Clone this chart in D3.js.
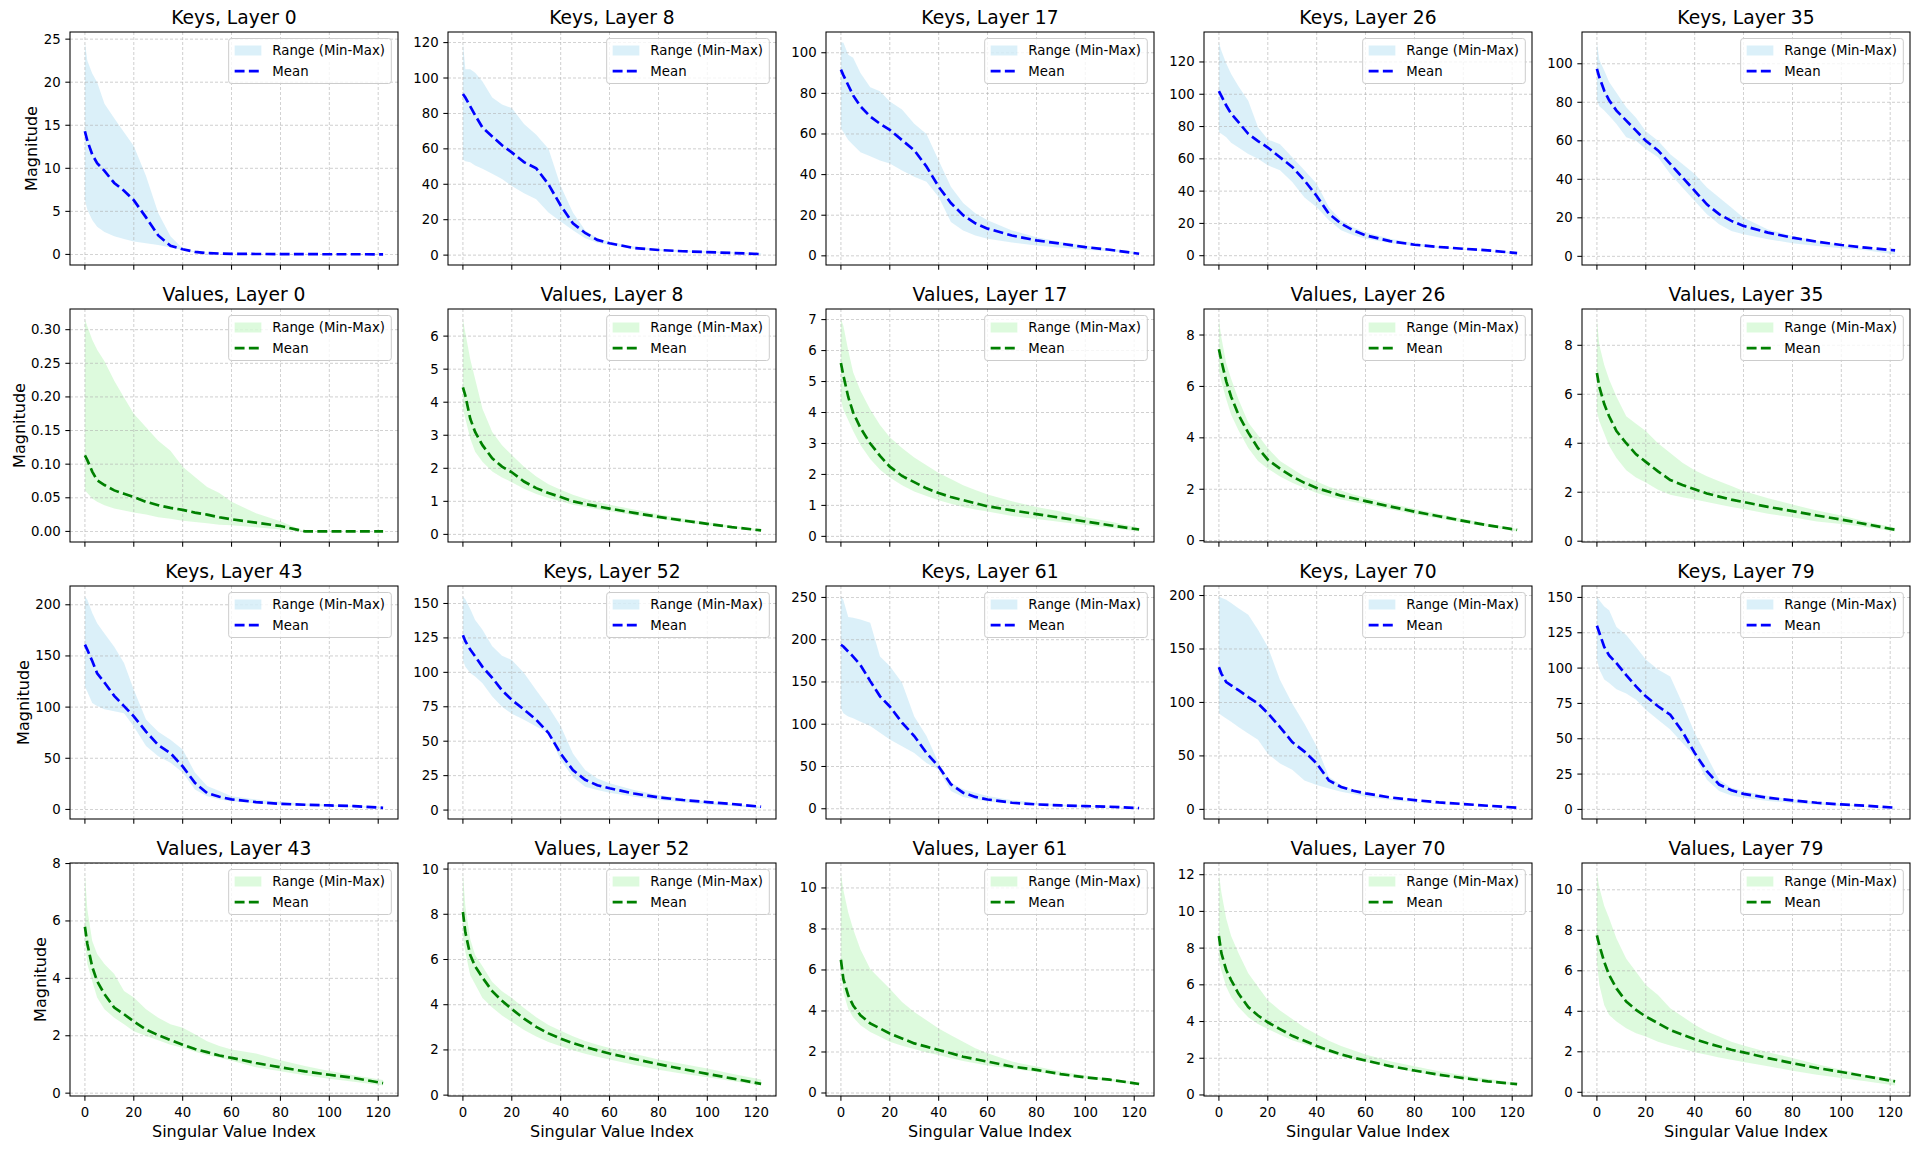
<!DOCTYPE html>
<html lang="en">
<head>
<meta charset="utf-8" />
<title>Singular values per layer</title>
<style>
  body        { margin:0; background:#fff; }
  svg         { display:block; font-family:"DejaVu Sans", sans-serif; }
  .grid line  { stroke:#b0b0b0; stroke-width:0.8px; stroke-dasharray:3,2; opacity:0.75; }
  .frame      { fill:none; stroke:#000; stroke-width:1.05px; }
  .tick       { stroke:#000; stroke-width:1.05px; }
  .tickText   { font-size:13.3px; fill:#000; }
  .title      { font-size:18.7px; fill:#000; text-anchor:middle; }
  .axisLabel  { font-size:16px; fill:#000; text-anchor:middle; }
  .legendText { font-size:13.3px; fill:#000; }
</style>
</head>
<body>
<svg width="1920" height="1151"></svg>

<script src="https://cdn.jsdelivr.net/npm/d3@7"></script>
<script>
/* ---------- DATA ---------- */
const layers  = [0, 8, 17, 26, 35, 43, 52, 61, 70, 79];
const svIndex = [0,1,3,5,8,12,16,20,25,30,35,40,45,50,55,60,70,80,90,100,110,122];

// one row per layer, values at svIndex
const keysMax = [
  [24.6,22.5,21,20,17.5,15.8,14.2,12.6,9.1,4.8,2.1,0.7,0.35,0.2,0.12,0.08,0.05,0.04,0.03,0.03,0.02,0.02],
  [120,105,105,103,98,89,85,83,74,68,60,39,24,14,9.5,7.6,4.8,3.5,2.8,2.2,1.6,1.0],
  [105,105,99,97.5,90,83,81,76,72,65,60,47,34,26,21,17.5,12.5,9.2,6.8,5.1,3.5,1.8],
  [132,127,119,112.6,105,96,79.6,72,69,61,53,44.5,30,22,17.7,14.6,10.5,7.8,5.8,4.3,3.3,1.9],
  [111,102,96.5,90.5,85,77.4,72,65,60,53,48,42.7,35.8,30.5,25.3,20,14,10.6,8,5.9,4.2,2.4],
  [208,205,192,182,172,159,143,117,88,76,68,58.5,36,23,18,13,9.8,7.5,5.9,4.6,3.6,2.3],
  [155,153,146,138,131,119,112,109,99.5,87,75,61,41,29,23,19.4,14.6,10.9,8.5,6.1,4.4,2.4],
  [251,247,227,226,224,220,180,169,149,109,86,54,31,23,19,15,10.2,7.1,5.1,3.5,2.4,0.8],
  [199,198,196,193,188,182,168,152,121,99,80,59,30.5,22.7,18,15,10.3,7.2,5.6,4,2.5,1.2],
  [150.6,148,143.5,141,129,123.5,115,106,99,94,75,54,37.6,21,15.3,13,9.4,7,5.4,3.8,2.4,1.2]
];
const keysMean = [
  [14.3,13.2,11.6,10.6,9.7,8.3,7.4,6.3,4.3,2.2,1.0,0.6,0.3,0.15,0.1,0.07,0.05,0.04,0.03,0.02,0.02,0.01],
  [91,89,84,79,72,67,62,58,52.5,49,40,28,18,12.5,8.6,6.7,4,2.9,2.2,1.7,1.2,0.6],
  [91.7,89,84,79,73.6,68.6,65,62,57,52,44,34,26,20,16,13.4,10,7.6,6,4.3,3,1],
  [102,99,93,88,82.7,75.5,71,67,61,55,46.6,37,26,19.8,15.7,12.6,9,6.8,5.4,4.3,3.3,1.6],
  [97.4,93,86,81,75.7,70.5,65.3,60,55,48,41,34,27,21.9,18.4,15.8,12.3,9.7,7.6,5.9,4.5,3.1],
  [161,156,145,133,124,111,101,91,76,63,55,42,26,16,12.4,9.8,7.2,5.5,4.6,3.9,3.3,1.6],
  [127,122.6,116.5,111.7,104,96,87,80,73,65.5,56,41,29,22,18,15.8,12,9.2,7.3,5.8,4.4,2.4],
  [194,192,186,180,170,151,133,121,102,86,66,50,29,19,14,11,7.1,5.1,3.9,3.1,2.4,0.8],
  [133,127,119,116,111.5,105,99,90,77,63,54,43,27,21,17.4,15,11.2,8.7,6.5,5,3.4,1.6],
  [130,125,115,109,103.5,95,87,80,73,67,55,40,27,17.6,13.6,11,8.2,6.4,4.7,3.5,2.6,1.2]
];
const keysMin = [
  [6.3,5.2,4.0,3.2,2.6,2.1,1.8,1.5,1.3,1.1,0.8,0.5,0.25,0.12,0.08,0.05,0.03,0.02,0.02,0.01,0.01,0.0],
  [54,53,52.5,50.6,48.7,46,43,39,35,31.5,24,19,14,9.5,7,5.7,3.5,2.5,1.8,1.3,0.9,0.4],
  [63,61,57,54.6,51,49,47,45.5,42,39,36.5,29,16.7,12.5,10,8.4,6.6,5.1,4,3,2.3,0.7],
  [76.5,75.5,73.4,70,67,63,60,56,53,45.6,36,30,22,15.7,12.6,10.5,7.8,6,4.7,3.7,2.9,0.8],
  [81,78,75.7,73,68.7,61.8,60,55.7,51.4,42.7,35.8,28.8,21.9,16.7,13.2,11.5,8.9,6.8,5.4,4.2,3.1,1],
  [120,115,104,101,98,96,94,81,62,52,45.5,36,19.5,13,9.8,8.1,5.9,4.6,3.6,2.9,2.3,1],
  [109,104,99.5,97,92,82.5,75,70,65.5,60.7,56,36.4,24,17,14.6,12.6,9.7,7.3,5.6,4.1,2.9,1.2],
  [119,113,109,107,103,98,90,82,74,66,54,46,21,14,11,8.7,5.9,4.3,3.1,2.4,1.6,0.4],
  [90,88,85,82,77,71,65,52,43,37,27,22.7,19.6,16.5,14.3,11.8,8.7,6.5,5,3.7,2.5,0.9],
  [106,99,92,89.4,85,82,77.6,70.6,63.5,56.5,47,37.6,21,13,9.9,8.2,5.9,4.5,3.3,2.6,1.9,0.7]
];

const valuesMax = [
  [0.315,0.305,0.285,0.27,0.253,0.224,0.199,0.175,0.155,0.135,0.12,0.096,0.081,0.066,0.057,0.044,0.027,0.015,0,0,0,0],
  [6.5,6.1,5.3,4.7,3.8,3.1,2.7,2.4,2.05,1.75,1.52,1.35,1.2,1.08,0.98,0.9,0.75,0.61,0.48,0.37,0.26,0.15],
  [7.0,6.8,6.0,5.3,4.7,4.1,3.6,3.2,2.85,2.55,2.3,2.05,1.85,1.65,1.5,1.35,1.13,0.95,0.8,0.62,0.48,0.28],
  [8.6,7.9,6.9,6.3,5.5,4.6,4.1,3.6,3.1,2.8,2.5,2.3,2.1,1.95,1.8,1.68,1.45,1.24,1.04,0.85,0.66,0.45],
  [9.05,8.0,7.2,6.6,5.9,5.1,4.8,4.5,4.0,3.6,3.2,2.9,2.65,2.45,2.25,2.05,1.75,1.5,1.25,1.05,0.8,0.55],
  [7.65,6.4,5.3,4.85,4.5,4.15,3.56,3.33,2.92,2.63,2.4,2.28,2.05,1.81,1.64,1.52,1.38,1.15,0.95,0.77,0.62,0.46],
  [9.8,8.35,6.9,6.2,5.7,5.0,4.6,4.3,3.85,3.45,3.1,2.85,2.6,2.4,2.23,2.09,1.83,1.58,1.38,1.18,0.95,0.69],
  [10.7,9.9,8.8,8.0,7.0,6.05,5.56,5.08,4.44,3.95,3.55,3.15,2.82,2.5,2.18,1.94,1.53,1.29,1.05,0.85,0.69,0.53],
  [12.06,11.05,9.6,8.66,7.73,6.63,5.9,5.16,4.6,4.14,3.68,3.31,2.95,2.67,2.43,2.21,1.84,1.57,1.29,1.07,0.88,0.64],
  [10.8,10.1,9.2,8.6,7.6,6.6,5.95,5.3,4.8,4.15,3.74,3.33,3.0,2.75,2.5,2.31,1.98,1.69,1.39,1.11,0.87,0.62]
];
const valuesMean = [
  [0.113,0.106,0.089,0.076,0.069,0.061,0.056,0.051,0.044,0.039,0.035,0.032,0.028,0.025,0.021,0.018,0.013,0.008,0,0,0,0],
  [4.45,4.2,3.5,3.1,2.7,2.3,2.05,1.88,1.6,1.4,1.25,1.13,1.0,0.92,0.85,0.78,0.65,0.53,0.42,0.32,0.22,0.12],
  [5.6,5.2,4.5,4.0,3.5,3.0,2.6,2.25,1.95,1.75,1.55,1.4,1.27,1.17,1.07,0.97,0.84,0.72,0.6,0.48,0.36,0.22],
  [7.45,7.0,6.2,5.6,4.9,4.2,3.6,3.15,2.8,2.5,2.25,2.05,1.9,1.75,1.65,1.54,1.33,1.13,0.95,0.77,0.6,0.42],
  [6.87,6.3,5.6,5.1,4.5,4.0,3.55,3.24,2.85,2.5,2.3,2.12,1.95,1.82,1.7,1.6,1.4,1.23,1.05,0.88,0.7,0.47],
  [5.8,5.2,4.4,3.9,3.45,2.98,2.75,2.5,2.22,2.02,1.85,1.69,1.54,1.43,1.31,1.23,1.05,0.9,0.76,0.64,0.53,0.35],
  [8.1,7.2,6.2,5.7,5.2,4.6,4.17,3.81,3.38,3.02,2.73,2.5,2.3,2.13,1.98,1.84,1.6,1.37,1.15,0.94,0.74,0.5],
  [6.5,5.56,4.76,4.27,3.79,3.39,3.15,2.9,2.66,2.42,2.26,2.1,1.94,1.77,1.65,1.53,1.29,1.13,0.92,0.76,0.65,0.44],
  [8.66,7.73,6.8,6.26,5.52,4.79,4.33,3.96,3.59,3.22,2.95,2.67,2.43,2.21,2.03,1.88,1.57,1.33,1.1,0.92,0.74,0.59],
  [7.75,7.26,6.44,5.79,5.13,4.48,4.07,3.74,3.41,3.08,2.84,2.62,2.43,2.26,2.1,1.97,1.69,1.44,1.2,1.0,0.79,0.54]
];
const valuesMin = [
  [0.061,0.057,0.049,0.044,0.039,0.034,0.031,0.028,0.025,0.021,0.019,0.016,0.014,0.012,0.010,0.009,0.006,0.003,0,0,0,0],
  [3.8,3.5,2.9,2.5,2.2,1.9,1.72,1.58,1.38,1.22,1.1,1.0,0.9,0.83,0.76,0.7,0.58,0.47,0.37,0.28,0.19,0.09],
  [4.4,4.1,3.75,3.4,2.95,2.5,2.15,1.9,1.65,1.45,1.3,1.17,1.05,0.95,0.87,0.8,0.66,0.56,0.46,0.37,0.28,0.16],
  [6.6,6.2,5.5,4.9,4.3,3.6,3.1,2.8,2.5,2.25,2.05,1.85,1.72,1.6,1.5,1.42,1.22,1.03,0.86,0.7,0.54,0.36],
  [5.3,4.9,4.4,3.9,3.4,2.9,2.6,2.4,2.1,1.9,1.8,1.7,1.6,1.5,1.4,1.32,1.12,0.98,0.8,0.7,0.58,0.4],
  [5.3,4.5,3.9,3.33,2.92,2.63,2.4,2.16,1.99,1.84,1.69,1.58,1.44,1.32,1.23,1.13,0.9,0.76,0.62,0.5,0.4,0.27],
  [7.05,6.33,5.3,4.9,4.3,3.88,3.52,3.24,2.88,2.59,2.35,2.16,1.99,1.83,1.7,1.58,1.34,1.12,0.95,0.79,0.62,0.43],
  [5.9,4.9,4.1,3.7,3.3,2.98,2.74,2.5,2.3,2.15,1.98,1.85,1.69,1.56,1.45,1.34,1.18,1.02,0.85,0.73,0.6,0.37],
  [7.37,6.8,5.9,5.34,4.79,4.24,3.87,3.59,3.28,2.98,2.76,2.54,2.3,2.1,1.93,1.79,1.51,1.25,1.03,0.87,0.7,0.52],
  [6.44,5.3,4.31,3.82,3.49,3.16,2.92,2.75,2.5,2.31,2.15,1.98,1.85,1.72,1.61,1.49,1.28,1.07,0.87,0.7,0.54,0.34]
];

// y tick step per layer
const keysTickStep   = [5, 20, 20, 20, 20, 50, 25, 50, 50, 25];
const valuesTickStep = [0.05, 1, 1, 2, 2, 2, 2, 2, 2, 2];
const xTicks = [0, 20, 40, 60, 80, 100, 120];
const legendLabels = ["Range (Min-Max)", "Mean"];

/* ---------- LAYOUT ---------- */
const plotLeft = 70, plotTop = 32, colStep = 378, rowStep = 277;
const plotW = 328, plotH = 233;
const tickLen = 4.67, tickPad = 4.67;

const styles = {
  Keys:   { fill:"skyblue",    line:"#0000ff" },
  Values: { fill:"lightgreen", line:"#008000" }
};

const svg = d3.select("svg");
const x = d3.scaleLinear().domain([-6.1, 128.1]).range([0, plotW]);

for (let r = 0; r < 4; r++) {
  for (let c = 0; c < 5; c++) {
    const li   = (r < 2 ? 0 : 5) + c;
    const kind = r % 2 === 0 ? "Keys" : "Values";
    const mx   = kind === "Keys" ? keysMax[li]  : valuesMax[li];
    const mn   = kind === "Keys" ? keysMin[li]  : valuesMin[li];
    const mean = kind === "Keys" ? keysMean[li] : valuesMean[li];
    const step = kind === "Keys" ? keysTickStep[li] : valuesTickStep[li];
    drawPanel(r, c, kind, layers[li], mn, mean, mx, step);
  }
}

function drawPanel(r, c, kind, layer, mn, mean, mx, step) {
  const g = svg.append("g")
      .attr("transform", `translate(${plotLeft + c*colStep},${plotTop + r*rowStep})`);
  const st = styles[kind];

  const lo = d3.min(mn), hi = d3.max(mx), pad = (hi - lo) * 0.05;
  const y = d3.scaleLinear().domain([lo - pad, hi + pad]).range([plotH, 0]);
  const yTicks = d3.range(0, hi + pad + 1e-9, step).filter(v => v >= lo - pad);
  const fmt = step < 1 ? d3.format(".2f") : d3.format("d");

  const clipId = `clip-${r}-${c}`;
  g.append("clipPath").attr("id", clipId)
    .append("rect").attr("width", plotW).attr("height", plotH);
  const inner = g.append("g").attr("clip-path", `url(#${clipId})`);

  // min-max band
  inner.append("path")
      .datum(svIndex.map((v, i) => i))
      .attr("fill", st.fill).attr("fill-opacity", 0.3)
      .attr("d", d3.area()
        .x(i => x(svIndex[i]))
        .y0(i => y(mn[i]))
        .y1(i => y(mx[i])));

  // grid
  const grid = inner.append("g").attr("class", "grid");
  grid.selectAll(".gx").data(xTicks).join("line")
      .attr("x1", d => x(d)).attr("x2", d => x(d))
      .attr("y1", 0).attr("y2", plotH);
  grid.selectAll(".gy").data(yTicks).join("line")
      .attr("x1", 0).attr("x2", plotW)
      .attr("y1", d => y(d)).attr("y2", d => y(d));

  // mean
  inner.append("path")
      .datum(svIndex.map((v, i) => i))
      .attr("fill", "none").attr("stroke", st.line)
      .attr("stroke-width", 2.67).attr("stroke-dasharray", "9.9,4.3")
      .attr("d", d3.line().x(i => x(svIndex[i])).y(i => y(mean[i])));

  g.append("rect").attr("class", "frame").attr("width", plotW).attr("height", plotH);

  // ticks
  g.selectAll(".xt").data(xTicks).join("line").attr("class", "tick")
      .attr("x1", d => x(d)).attr("x2", d => x(d))
      .attr("y1", plotH).attr("y2", plotH + tickLen);
  g.selectAll(".yt").data(yTicks).join("line").attr("class", "tick")
      .attr("x1", -tickLen).attr("x2", 0)
      .attr("y1", d => y(d)).attr("y2", d => y(d));

  const yLabels = g.selectAll(".yl").data(yTicks).join("text").attr("class", "tickText")
      .attr("x", -(tickLen + tickPad)).attr("y", d => y(d))
      .attr("text-anchor", "end").attr("dominant-baseline", "central")
      .text(fmt);

  if (r === 3) {
    g.selectAll(".xl").data(xTicks).join("text").attr("class", "tickText")
        .attr("x", d => x(d)).attr("y", plotH + tickLen + tickPad + 12)
        .attr("text-anchor", "middle").text(d => d);
    g.append("text").attr("class", "axisLabel")
        .attr("x", plotW/2).attr("y", plotH + 41).text("Singular Value Index");
  }

  if (c === 0) {
    let maxW = 0;
    yLabels.each(function(){ maxW = Math.max(maxW, this.getComputedTextLength()); });
    const bx = -(tickLen + tickPad + maxW + 6.3);
    g.append("text").attr("class", "axisLabel")
        .attr("transform", `translate(${bx},${plotH/2}) rotate(-90)`)
        .text("Magnitude");
  }

  g.append("text").attr("class", "title")
      .attr("x", plotW/2).attr("y", -8).text(`${kind}, Layer ${layer}`);

  // legend
  const leg = g.append("g");
  const box = leg.append("rect")
      .attr("rx", 2.7).attr("ry", 2.7)
      .attr("fill", "#fff").attr("fill-opacity", 0.8)
      .attr("stroke", "#cccccc").attr("stroke-width", 1);
  const t1 = leg.append("text").attr("class", "legendText")
      .attr("x", 43.7).attr("y", 12).attr("dominant-baseline", "central").text(legendLabels[0]);
  leg.append("text").attr("class", "legendText")
      .attr("x", 43.7).attr("y", 32.7).attr("dominant-baseline", "central").text(legendLabels[1]);
  leg.append("rect").attr("x", 6).attr("y", 7).attr("width", 26.7).attr("height", 10)
      .attr("fill", st.fill).attr("fill-opacity", 0.3);
  leg.append("line").attr("x1", 6).attr("x2", 32.7).attr("y1", 32.7).attr("y2", 32.7)
      .attr("stroke", st.line).attr("stroke-width", 2.67).attr("stroke-dasharray", "9.9,4.3");
  const lw = 43.7 + t1.node().getComputedTextLength() + 6.3, lh = 45;
  box.attr("width", lw).attr("height", lh);
  leg.attr("transform", `translate(${plotW - 6.7 - lw},6.5)`);
}
</script>
</body>
</html>
